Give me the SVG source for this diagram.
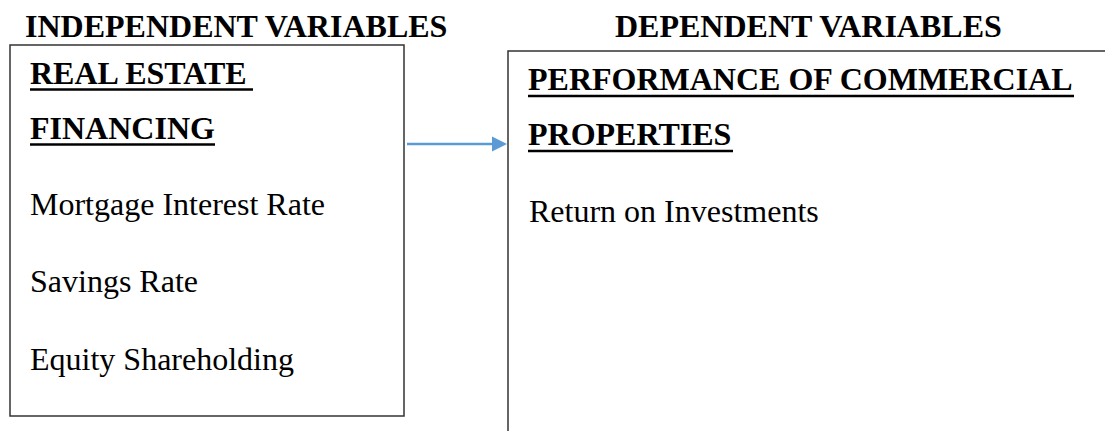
<svg xmlns="http://www.w3.org/2000/svg" width="1105" height="431" viewBox="0 0 1105 431">
<style>
.hd{font-family:"Liberation Serif","Times New Roman",serif;font-weight:bold;font-size:32px;fill:#000}
.tx{font-family:"Liberation Serif","Times New Roman",serif;font-size:32px;fill:#000}
.box{fill:#fff;stroke:#333;stroke-width:1.5}
.ul{stroke:#000;stroke-width:2.5}
</style>
<rect width="1105" height="431" fill="#fff"/>
<g id="titles">
<text class="hd" x="25" y="37">INDEPENDENT VARIABLES</text>
<text class="hd" x="615" y="37">DEPENDENT VARIABLES</text>
</g>
<g id="independent">
<rect class="box" x="10" y="45" width="394" height="371"/>
<text class="hd" x="30" y="84">REAL ESTATE</text>
<line class="ul" x1="30" y1="89.5" x2="253" y2="89.5"/>
<text class="hd" x="30" y="139">FINANCING</text>
<line class="ul" x1="30" y1="144.5" x2="215" y2="144.5"/>
<text class="tx" x="30" y="215">Mortgage Interest Rate</text>
<text class="tx" x="30" y="292">Savings Rate</text>
<text class="tx" x="30" y="370">Equity Shareholding</text>
</g>
<g id="dependent">
<rect class="box" x="508" y="51" width="620" height="400"/>
<text class="hd" x="528" y="90">PERFORMANCE OF COMMERCIAL</text>
<line class="ul" x1="528" y1="96" x2="1074" y2="96"/>
<text class="hd" x="528" y="145">PROPERTIES</text>
<line class="ul" x1="528" y1="151" x2="733" y2="151"/>
<text class="tx" x="529" y="222">Return on Investments</text>
</g>
<g id="connectors">
<line x1="407" y1="144" x2="494" y2="144" stroke="#5B9BD5" stroke-width="2.5"/>
<polygon points="492,136.5 507,144 492,151.5" fill="#5B9BD5"/>
</g>
</svg>
